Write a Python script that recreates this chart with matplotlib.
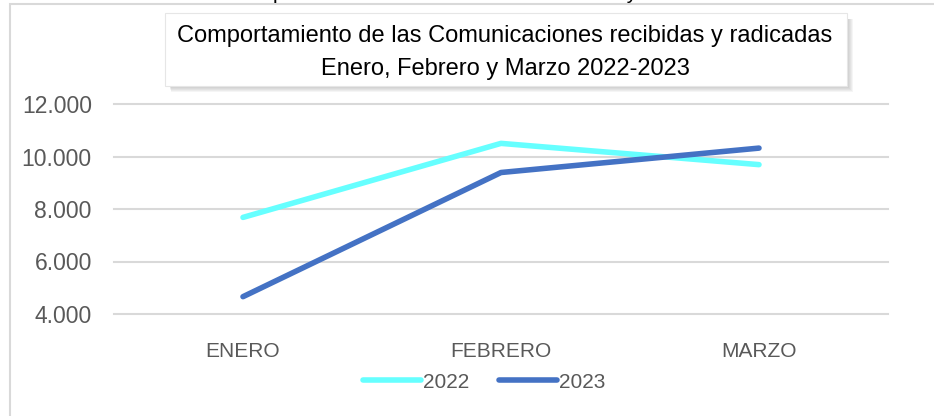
import matplotlib
matplotlib.use("Agg")
import matplotlib.pyplot as plt
from matplotlib.patches import Rectangle
from matplotlib.ticker import FuncFormatter

meses = ["ENERO", "FEBRERO", "MARZO"]
serie_2022 = [7680, 10500, 9690]
serie_2023 = [4660, 9390, 10320]
etiquetas = ["2022", "2023"]
colores = ["#66FFFF", "#4472C4"]

plt.rcParams["font.family"] = ["Liberation Sans", "DejaVu Sans"]

W, H = 934, 416
fig = plt.figure(figsize=(W / 100, H / 100), dpi=100)

def fx(px):
    return px / W

def fy(py):
    return 1 - py / H

def rect(x0, y0, x1, y1, **kw):
    # rectangulo en pixeles (origen arriba a la izquierda)
    return Rectangle((fx(x0), fy(y1)), fx(x1) - fx(x0), fy(y0) - fy(y1),
                     transform=fig.transFigure, **kw)

# marco del grafico
fig.patches.append(rect(10, 4, 960, 440, fill=False, edgecolor="#D9D9D9", linewidth=1.5))

# leyenda superior recortada
fig.text(0.52, fy(-1), "Gráfica 1. Comparativo de comunicaciones recibidas y radicadas 2022-2023",
         ha="center", va="baseline", fontsize=15, color="#000000")

ax = fig.add_axes([fx(114), fy(314), fx(888) - fx(114), fy(104) - fy(314)])
x = range(len(meses))
ax.plot(x, serie_2022, color=colores[0], linewidth=4, solid_capstyle="round", label=etiquetas[0])
ax.plot(x, serie_2023, color=colores[1], linewidth=4, solid_capstyle="round", label=etiquetas[1])

ax.set_xlim(-0.5, 2.5)
ax.set_ylim(4000, 12000)
ax.set_yticks([4000, 6000, 8000, 10000, 12000])
ax.yaxis.set_major_formatter(FuncFormatter(lambda v, p: f"{int(v):,}".replace(",", ".")))
ax.set_xticks(list(x))
ax.set_xticklabels(meses)
for s in ax.spines.values():
    s.set_visible(False)
ax.grid(axis="y", color="#D9D9D9", linewidth=1.5)
for gl in ax.get_ygridlines():
    gl.set_clip_on(False)
ax.set_axisbelow(True)
ax.tick_params(axis="both", length=0, labelsize=15, colors="#595959")
ax.tick_params(axis="y", labelsize=16.5, pad=16)
ax.tick_params(axis="x", pad=20)

leg = ax.legend(loc="center", bbox_to_anchor=(fx(484), fy(382)), bbox_transform=fig.transFigure,
                ncol=2, frameon=False, fontsize=15, handlelength=2.8, handletextpad=0.1,
                columnspacing=1.4)
for t in leg.get_texts():
    t.set_color("#595959")

# cuadro del titulo con sombra difusa
for i in range(6):
    d = 6 - i
    fig.patches.append(rect(165 + 4 + d * 0.3, 13 + 6, 847 + d, 86 + d,
                            facecolor="#808080", edgecolor="none", alpha=0.08))
fig.patches.append(rect(165, 13, 847, 86, facecolor="white", edgecolor="#E6E6E6", linewidth=0.8))
fig.text(fx(505), fy(36), "Comportamiento de las Comunicaciones recibidas y radicadas",
         ha="center", va="center", fontsize=17, color="#000000")
fig.text(fx(505), fy(69), "Enero, Febrero y Marzo 2022-2023",
         ha="center", va="center", fontsize=17, color="#000000")

fig.savefig("out.png", dpi=100, facecolor="white")
